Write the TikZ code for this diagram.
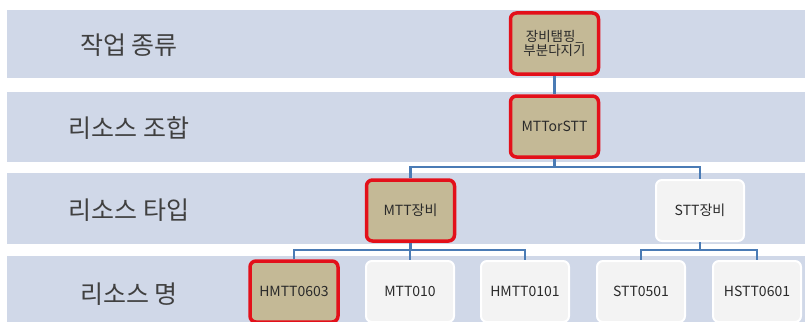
\documentclass[tikz,border=0pt]{standalone}
\usepackage{fontspec}
\setmainfont{Noto Sans CJK KR}
\definecolor{bandc}{HTML}{D0D8E8}
\definecolor{selc}{HTML}{C4B996}
\definecolor{redc}{HTML}{E3101A}
\definecolor{offc}{HTML}{F3F3F3}
\definecolor{linec}{HTML}{4A7BB5}
\definecolor{txtc}{HTML}{2A2A2A}
\tikzset{
  band/.style={fill=bandc, draw=none},
  lbl/.style={font=\fontsize{25}{28}\selectfont, text=black!75},
  sel/.style={rounded corners=6pt, fill=selc, draw=redc, line width=3.5pt, minimum width=88pt, minimum height=61pt, inner sep=1pt, align=center, font=\fontsize{14}{14}\selectfont, text=txtc},
  off/.style={rounded corners=6pt, fill=offc, draw=white, line width=2pt, minimum width=88pt, minimum height=61pt, inner sep=1pt, align=center, font=\fontsize{14}{14}\selectfont, text=txtc},
  conn/.style={draw=linec, line width=2.5pt}
}
\begin{document}
\begin{tikzpicture}[x=1pt,y=-1pt]
\useasboundingbox (0,0) rectangle (805,321);
\clip (0,0) rectangle (805,321);
\fill[white] (0,0) rectangle (805,321);
% bands
\path[band] (7,10) rectangle (810,78);
\path[band] (7,92) rectangle (810,162);
\path[band] (7,173) rectangle (810,244);
\path[band] (7,256) rectangle (810,330);
% labels
\node[lbl] (l1) at (129,45) {작업 종류};
\node[lbl] (l2) at (129,128) {리소스 조합};
\node[lbl] (l3) at (129,210) {리소스 타입};
\node[lbl] (l4) at (129,294) {리소스 명};
% nodes
\node[sel, font=\fontsize{13.5}{13.5}\selectfont] (top) at (554.5,43.5) {장비탬핑\_\\부분다지기};
\node[sel] (comb) at (554.5,126.5) {MTTorSTT};
\node[sel] (mtt) at (410.5,210.5) {MTT장비};
\node[off] (stt) at (700,210.5) {STT장비};
\node[sel] (r1) at (294,291.5) {HMTT0603};
\node[off] (r2) at (410,291.5) {MTT010};
\node[off] (r3) at (525,291.5) {HMTT0101};
\node[off] (r4) at (641,291.5) {STT0501};
\node[off] (r5) at (757,291.5) {HSTT0601};
% connectors
\draw[conn] (top.south) -- (comb.north);
\coordinate (j1) at (554.5,167);
\draw[conn] (comb.south) -- (j1);
\draw[conn] (j1) -| (mtt.north);
\draw[conn] (j1) -| (stt.north);
\coordinate (j2) at (410.5,250);
\draw[conn] (mtt.south) -- (j2);
\draw[conn] (j2) -| (r1.north);
\draw[conn] (j2) -| (r2.north);
\draw[conn] (j2) -| (r3.north);
\coordinate (j3) at (700,250);
\draw[conn] (stt.south) -- (j3);
\draw[conn] (j3) -| (r4.north);
\draw[conn] (j3) -| (r5.north);
\end{tikzpicture}
\end{document}
